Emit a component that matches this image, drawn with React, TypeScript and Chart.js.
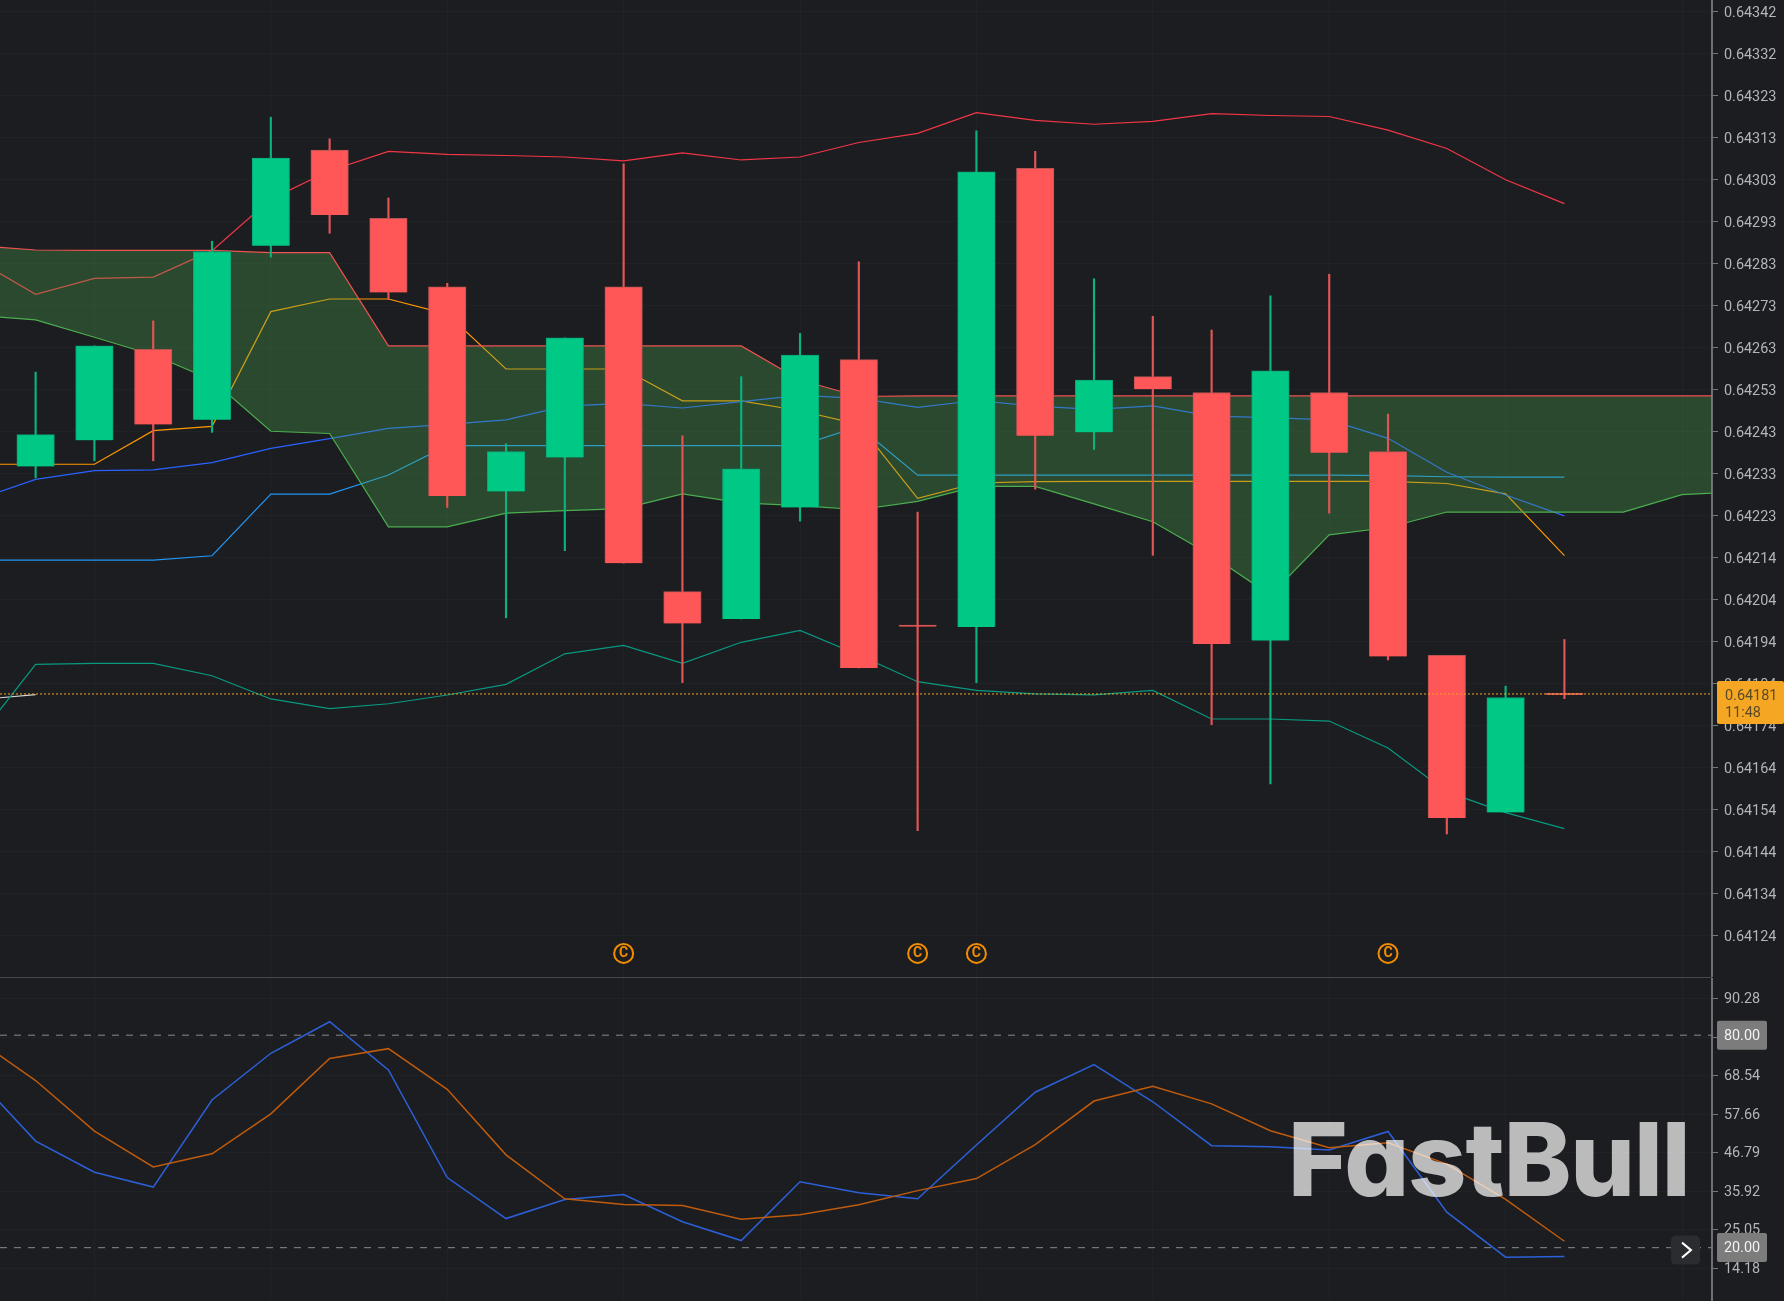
import { useEffect, useRef } from "react";
import { Chart, registerables } from "chart.js";

Chart.register(...registerables);

// candles, oldest first
const candleOpen = [0.6423467, 0.6424085, 0.6426233, 0.6424568, 0.6428676, 0.6430932, 0.6429321, 0.642771, 0.6422877, 0.6423682, 0.642771, 0.6420514, 0.641987, 0.6422501, 0.6425991, 0.6419708, 0.6419682, 0.6430502, 0.6424273, 0.6425589, 0.6425213, 0.6419359, 0.6425213, 0.6423817, 0.641901, 0.6415305, 0.6418097];
const candleHigh = [0.6425696, 0.6426314, 0.6426904, 0.6428784, 0.643171, 0.64312, 0.6429804, 0.642779, 0.6424004, 0.6426502, 0.643061, 0.6424192, 0.6425589, 0.6426609, 0.64283, 0.6422393, 0.6431388, 0.6430905, 0.6427898, 0.6427012, 0.6426689, 0.6427495, 0.6428005, 0.6424703, 0.641901, 0.6418285, 0.6419386];
const candleLow = [0.6423199, 0.6423602, 0.6423602, 0.6424273, 0.6428408, 0.6428972, 0.6427414, 0.6422501, 0.6419896, 0.6421481, 0.6421185, 0.6418366, 0.641987, 0.6422179, 0.6418715, 0.6414876, 0.6418366, 0.642293, 0.642387, 0.6421373, 0.6417373, 0.6415976, 0.6422367, 0.6418903, 0.6414795, 0.6415305, 0.641799];
const candleClose = [0.6424219, 0.6426314, 0.6424461, 0.6428542, 0.6430744, 0.6429401, 0.6427576, 0.6422769, 0.6423817, 0.6426502, 0.6421185, 0.6419762, 0.6423414, 0.6426099, 0.6418715, 0.641969, 0.6430422, 0.6424192, 0.6425508, 0.6425293, 0.6419279, 0.6425723, 0.642379, 0.6418984, 0.6415171, 0.6418017, 0.641808];

// indicator lines start one bar before the first candle (off the left edge)
const bollUpper = [0.6428341, 0.642753, 0.6427908, 0.6427938, 0.6428561, 0.6429777, 0.6430448, 0.6430905, 0.6430835, 0.6430806, 0.6430771, 0.6430682, 0.643087, 0.6430701, 0.6430771, 0.6431114, 0.6431329, 0.6431818, 0.6431635, 0.6431544, 0.6431614, 0.6431796, 0.6431751, 0.6431727, 0.6431407, 0.6430972, 0.6430234, 0.642967];
const bollMiddle = [0.6422689, 0.6423164, 0.6423368, 0.6423387, 0.6423559, 0.6423897, 0.6424125, 0.6424367, 0.6424461, 0.6424568, 0.6424891, 0.6424955, 0.6424848, 0.6424998, 0.6425146, 0.6425073, 0.6424864, 0.6425025, 0.6424891, 0.6424818, 0.6424899, 0.6424657, 0.6424622, 0.6424568, 0.6424133, 0.6423333, 0.6422796, 0.6422302];
const bollLower = [0.6417034, 0.6418798, 0.6418822, 0.6418822, 0.641853, 0.6417982, 0.6417754, 0.6417869, 0.6418076, 0.6418326, 0.6419048, 0.6419247, 0.6418822, 0.6419319, 0.6419601, 0.6419019, 0.641839, 0.6418183, 0.6418103, 0.6418079, 0.6418183, 0.6417509, 0.6417509, 0.6417461, 0.6416825, 0.6415788, 0.64153, 0.6414924];
const tenkan = [0.642126, 0.642126, 0.642126, 0.642126, 0.6421362, 0.6422818, 0.6422818, 0.6423266, 0.6423959, 0.6423959, 0.6423959, 0.6423959, 0.6423959, 0.6423959, 0.6423959, 0.6424413, 0.6423263, 0.6423263, 0.6423263, 0.6423263, 0.6423263, 0.6423263, 0.6423263, 0.6423263, 0.6423253, 0.6423226, 0.6423218, 0.6423218];
const kijun = [0.6423521, 0.6423521, 0.6423521, 0.6424313, 0.6424415, 0.6427122, 0.642742, 0.642742, 0.6427065, 0.6425769, 0.6425769, 0.6425769, 0.6425017, 0.6425017, 0.6424783, 0.6424461, 0.6422716, 0.6423078, 0.6423113, 0.6423118, 0.6423118, 0.6423118, 0.6423118, 0.6423118, 0.6423118, 0.6423067, 0.6422823, 0.6421365];
const spanTop = [0.6428676, 0.6428577, 0.6428569, 0.6428569, 0.6428569, 0.6428515, 0.6428515, 0.6426314, 0.6426314, 0.6426314, 0.6426314, 0.6426314, 0.6426314, 0.6426314, 0.6425508, 0.6425119, 0.6425132, 0.6425132, 0.6425132, 0.6425132, 0.6425132, 0.6425132, 0.6425132, 0.6425132, 0.6425132, 0.6425132, 0.6425132, 0.6425132, 0.6425132, 0.6425132, 0.6425132];
const spanBottom = [0.6427039, 0.6426926, 0.6426518, 0.6426099, 0.6425508, 0.64243, 0.6424246, 0.6422044, 0.6422044, 0.6422367, 0.6422426, 0.6422474, 0.6422823, 0.6422608, 0.6422544, 0.6422447, 0.6422643, 0.6423, 0.6423, 0.6422587, 0.6422165, 0.6421365, 0.6420433, 0.6421856, 0.6422028, 0.6422393, 0.6422393, 0.6422393, 0.6422393, 0.6422804, 0.6422874];
const closeTrail = [0.6417963, 0.6418084];

const lastPrice = 0.64181;
const lastPriceLabel = "0.64181";
const countdownLabel = "11:48";

const markerBars = [10, 15, 16, 23];
const markerPrice = 0.6411978;
const markerLabel = "C";

const priceTickLabels = ["0.64342", "0.64332", "0.64323", "0.64313", "0.64303", "0.64293", "0.64283", "0.64273", "0.64263", "0.64253", "0.64243", "0.64233", "0.64223", "0.64214", "0.64204", "0.64194", "0.64184", "0.64174", "0.64164", "0.64154", "0.64144", "0.64134", "0.64124"];

// stochastic panel, same bars as the indicator lines above
const stochK = [67.9, 50.1, 41.3, 37.1, 61.7, 74.9, 83.8, 70.2, 39.8, 28.2, 33.6, 35.0, 27.3, 22.0, 38.6, 35.5, 33.8, 49.0, 63.9, 71.7, 61.2, 48.8, 48.5, 47.6, 52.8, 30.0, 17.3, 17.5];
const stochD = [78.8, 67.2, 52.9, 42.8, 46.5, 57.8, 73.4, 76.2, 64.7, 46.2, 33.8, 32.2, 31.9, 28.0, 29.3, 32.1, 36.1, 39.5, 49.1, 61.4, 65.6, 60.6, 53.0, 48.2, 49.6, 43.6, 33.6, 21.8];
const stochLevels = [80, 20];
const stochLevelLabels = ["80.00", "20.00"];
const stochTickLabels = ["90.28", "79.41", "68.54", "57.66", "46.79", "35.92", "25.05", "14.18"];

const watermark = "FastBull";

const BG = "#1c1d21";
const UP = "#00c885";
const DOWN = "#ff5757";
const AXIS_FONT = { family: "Roboto", size: 14.4 };
const X_MIN = -0.606;
const X_MAX = 28.51;
const AXIS_WIDTH = 72;
const gridBars = [1, 4, 7, 10, 13, 16, 19, 22, 25, 28];

// turn a list into {x,y} points, first value at bar -1
const pts = (list: number[]) => list.map((y, i) => ({ x: i - 1, y }));

const flatLine = (y: number) => [{ x: X_MIN, y }, { x: X_MAX, y }];

const lineDs = (data: any[], color: string, order: number, width = 1.2, extra: any = {}) => ({
  type: "line",
  data,
  borderColor: color,
  borderWidth: width,
  pointRadius: 0,
  tension: 0,
  order,
  ...extra,
});

const xScale = (): any => ({
  type: "linear",
  min: X_MIN,
  max: X_MAX,
  offset: false,
  grid: { color: "rgba(255,255,255,0.022)", drawTicks: false, offset: false },
  border: { display: false },
  ticks: { display: false },
  afterBuildTicks: (s: any) => {
    s.ticks = gridBars.map((value) => ({ value }));
  },
});

const yScale = (min: number, max: number, tickValues: number[], tickLabels: string[], labelOffset: number): any => ({
  type: "linear",
  position: "right",
  min,
  max,
  bounds: "data",
  beginAtZero: false,
  grid: { color: "rgba(255,255,255,0.022)", tickColor: "#77787c", tickLength: 6, tickWidth: 1 },
  border: { color: "#6f7074", width: 2 },
  ticks: {
    autoSkip: false,
    padding: 6,
    labelOffset,
    color: "#b4b5b8",
    font: AXIS_FONT,
    callback: (_v: any, i: number) => tickLabels[i],
  },
  afterBuildTicks: (s: any) => {
    s.ticks = tickValues.map((value) => ({ value }));
  },
  afterFit: (s: any) => {
    s.width = AXIS_WIDTH;
    s.paddingTop = 0;
    s.paddingBottom = 0;
  },
});

const priceTagPlugin = {
  id: "priceTag",
  afterDatasetsDraw(chart: any) {
    const { ctx } = chart;
    const meta = chart.getDatasetMeta(chart.data.datasets.length - 1);
    ctx.save();
    ctx.fillStyle = "#f28c00";
    ctx.font = "bold 14px Roboto";
    ctx.textAlign = "center";
    ctx.textBaseline = "middle";
    meta.data.forEach((p: any) => ctx.fillText(markerLabel, p.x, p.y + 0.5));
    ctx.restore();
  },
  afterDraw(chart: any) {
    const { ctx, scales } = chart;
    const y = scales.y.getPixelForValue(lastPrice);
    ctx.save();
    ctx.fillStyle = "#f5a623";
    ctx.beginPath();
    ctx.roundRect(1717, y - 13, 67, 43, 2);
    ctx.fill();
    ctx.fillStyle = "#5a4a28";
    ctx.font = "14.4px Roboto";
    ctx.textAlign = "left";
    ctx.textBaseline = "middle";
    ctx.fillText(lastPriceLabel, 1725, y + 2);
    ctx.fillText(countdownLabel, 1725, y + 19);
    ctx.restore();
  },
};

const stochOverlayPlugin = {
  id: "stochOverlay",
  afterDraw(chart: any) {
    const { ctx, scales } = chart;
    ctx.save();
    stochLevels.forEach((level, i) => {
      const y = scales.y.getPixelForValue(level);
      ctx.fillStyle = "#7c7c7c";
      ctx.beginPath();
      ctx.roundRect(1717, y - 14.5, 50, 29, 2);
      ctx.fill();
      ctx.fillStyle = "#f2f2f2";
      ctx.font = "14.4px Roboto";
      ctx.textAlign = "center";
      ctx.textBaseline = "middle";
      ctx.fillText(stochLevelLabels[i], 1742, y + 1);
    });

    // scroll button
    const y20 = scales.y.getPixelForValue(20);
    ctx.fillStyle = "#2b2c30";
    ctx.beginPath();
    ctx.roundRect(1671, y20 - 12, 29, 29, 5);
    ctx.fill();
    ctx.strokeStyle = "#ffffff";
    ctx.lineWidth = 2;
    ctx.beginPath();
    ctx.moveTo(1682, y20 - 5);
    ctx.lineTo(1691, y20 + 2.5);
    ctx.lineTo(1682, y20 + 10);
    ctx.stroke();
    ctx.restore();
  },
};

export default function App() {
  const mainRef = useRef<HTMLCanvasElement>(null);
  const stochRef = useRef<HTMLCanvasElement>(null);

  useEffect(() => {
    if (!mainRef.current || !stochRef.current) return;

    const isUp = candleClose.map((c, i) => c >= candleOpen[i]);
    const priceTickValues = priceTickLabels.map((_, i) => 0.64342 - i * 0.0000991);
    const stochTickValues = stochTickLabels.map((_, i) => 90.28 - i * 10.87);

    const mainChart = new Chart(mainRef.current, {
      type: "line",
      data: {
        datasets: [
          // 0 and 1 are the cloud, 0 fills down to 1. The other lines go under its tint
          lineDs(pts(spanTop), "#ef5350", 20, 1.2, {
            fill: { target: 1, above: "rgba(76,175,80,0.3)", below: "rgba(76,175,80,0.3)" },
          }),
          lineDs(pts(spanBottom), "#4caf50", 20),
          lineDs(pts(tenkan), "#2196f3", 25),
          lineDs(pts(kijun), "#ff9800", 25),
          lineDs(pts(bollUpper), "#f23645", 24),
          lineDs(pts(bollMiddle), "#2962ff", 24),
          lineDs(pts(bollLower), "#089981", 24),
          lineDs(pts(closeTrail), "#d8d8d8", 24),
          {
            type: "bar",
            grouped: false,
            barThickness: 1.5,
            data: candleHigh.map((h, i) => ({ x: i, y: [candleLow[i], h] })),
            backgroundColor: isUp.map((u) => (u ? "#0bb27e" : "#e25555")),
            order: 6,
          },
          {
            type: "bar",
            grouped: false,
            barThickness: 37.5,
            minBarLength: 1.5,
            data: candleOpen.map((o, i) => ({ x: i, y: [o, candleClose[i]] })),
            backgroundColor: isUp.map((u) => (u ? UP : DOWN)),
            borderColor: isUp.map((u) => (u ? "#0aa578" : "#b85454")),
            borderWidth: 1,
            order: 5,
          },
          lineDs(flatLine(lastPrice), "#f5a623", 2, 1, { borderDash: [2, 2] }),
          {
            type: "line",
            showLine: false,
            data: markerBars.map((x) => ({ x, y: markerPrice })),
            pointRadius: 9.5,
            pointBorderWidth: 2,
            pointBorderColor: "#f28c00",
            pointBackgroundColor: "transparent",
            order: 1,
          },
        ] as any,
      },
      options: {
        responsive: false,
        animation: false,
        layout: { padding: 0, autoPadding: false },
        plugins: { legend: { display: false }, tooltip: { enabled: false } },
        scales: {
          x: xScale(),
          y: yScale(0.6411421, 0.6434476, priceTickValues, priceTickLabels, 1.5),
        },
      },
      plugins: [priceTagPlugin],
    });

    const stochChart = new Chart(stochRef.current, {
      type: "line",
      data: {
        datasets: [
          lineDs(pts(stochK), "#2c60d8", 4, 1.5),
          lineDs(pts(stochD), "#bf5b0c", 3, 1.5),
          ...stochLevels.map((level) =>
            lineDs(flatLine(level), "#77787c", 5, 1.2, { borderDash: [7, 7] })
          ),
        ] as any,
      },
      options: {
        responsive: false,
        animation: false,
        layout: { padding: 0, autoPadding: false },
        plugins: { legend: { display: false }, tooltip: { enabled: false } },
        scales: {
          x: xScale(),
          y: yScale(4.92, 96.16, stochTickValues, stochTickLabels, 1),
        },
      },
      plugins: [stochOverlayPlugin],
    });

    return () => {
      mainChart.destroy();
      stochChart.destroy();
    };
  }, []);

  return (
    <div style={{ position: "absolute", left: 0, top: 0, width: 1784, height: 1301, background: BG, overflow: "hidden" }}>
      <canvas ref={mainRef} width={1784} height={977} style={{ position: "absolute", left: 0, top: 0 }} />
      <div style={{ position: "absolute", left: 0, top: 977, width: 1712, height: 1, background: "#47484c" }} />
      <canvas ref={stochRef} width={1784} height={323} style={{ position: "absolute", left: 0, top: 978 }} />
      {/* logo sits over the lines */}
      <div
        style={{
          position: "absolute",
          left: 1288,
          top: 1108,
          fontFamily: "Inter",
          fontWeight: 800,
          fontSize: 102,
          lineHeight: 1,
          letterSpacing: -1.1,
          color: "rgba(255,255,255,0.7)",
          fontFeatureSettings: '"cv11"',
          pointerEvents: "none",
          whiteSpace: "nowrap",
        }}
      >
        {watermark}
      </div>
    </div>
  );
}
